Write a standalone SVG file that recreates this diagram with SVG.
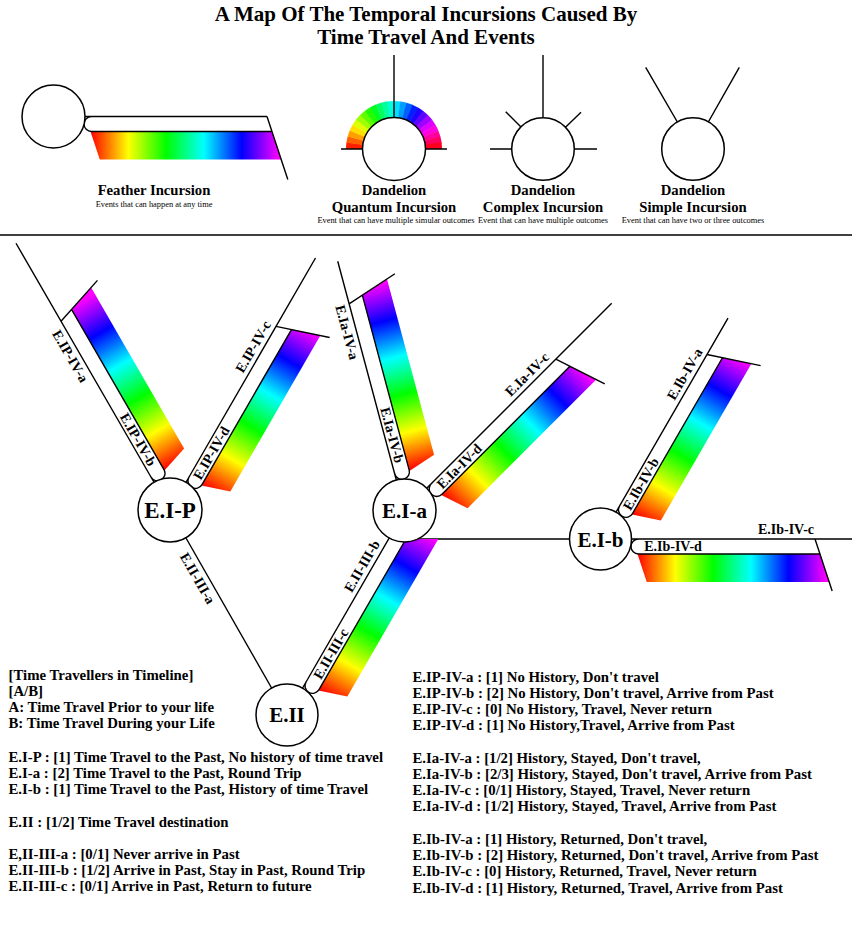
<svg xmlns="http://www.w3.org/2000/svg" width="852" height="938" viewBox="0 0 852 938">
<style>
.ln{fill:none;stroke:#000;stroke-width:1.4}
.rb{fill:url(#rb);stroke:none}
.nd{fill:#fff;stroke:#000;stroke-width:1.5}
text{font-family:"Liberation Serif","Times New Roman",serif;fill:#000}
.t{font-size:21px;font-weight:bold;text-anchor:middle}
.lh{font-size:14.7px;font-weight:bold;text-anchor:middle}
.ls{font-size:8.4px;text-anchor:middle}
.fl{font-size:14px;font-weight:bold;text-anchor:middle}
.nl{font-size:21px;font-weight:bold;text-anchor:middle}
.bt{font-size:14.8px;font-weight:bold}
</style>
<defs>
<linearGradient id="rb" gradientUnits="userSpaceOnUse" x1="37" y1="0" x2="226" y2="0">
<stop offset="0" stop-color="#f00"/>
<stop offset="0.2" stop-color="#ff0"/>
<stop offset="0.4" stop-color="#0f0"/>
<stop offset="0.6" stop-color="#0ff"/>
<stop offset="0.8" stop-color="#00f"/>
<stop offset="1" stop-color="#f0f"/>
</linearGradient>
<path id="wd" d="M31.5 0H48A48 48 0 0 1 47.533 6.680L31.194 4.384A31.5 31.5 0 0 0 31.5 0Z"/>
</defs>
<rect width="852" height="938" fill="#fff"/>

<g id="title">
<text class="t" x="426" y="21">A Map Of The Temporal Incursions Caused By</text>
<text class="t" x="426" y="44">Time Travel And Events</text>
</g>

<g id="legend-feather">
<g transform="translate(53.5,116.5)">
<polygon class="rb" points="37,15 218.45,15 227.69,43 46.24,43"/>
<path class="ln" d="M30 0H213.5M213.5 0L234.3 63M218.45 15H38A7.5 7.5 0 0 1 38 0"/>
</g>
<circle class="nd" cx="53.5" cy="116.5" r="31.5"/>
<text class="lh" x="154" y="195">Feather Incursion</text>
<text class="ls" x="154" y="207">Events that can happen at any time</text>
</g>

<g id="legend-quantum">
<g transform="translate(394,149)">
<use href="#wd" transform="rotate(180)" fill="hsl(7.5,100%,50%)"/>
<use href="#wd" transform="rotate(187.5)" fill="hsl(22.5,100%,50%)"/>
<use href="#wd" transform="rotate(195)" fill="hsl(37.5,100%,50%)"/>
<use href="#wd" transform="rotate(202.5)" fill="hsl(52.5,100%,50%)"/>
<use href="#wd" transform="rotate(210)" fill="hsl(67.5,100%,50%)"/>
<use href="#wd" transform="rotate(217.5)" fill="hsl(82.5,100%,50%)"/>
<use href="#wd" transform="rotate(225)" fill="hsl(97.5,100%,50%)"/>
<use href="#wd" transform="rotate(232.5)" fill="hsl(112.5,100%,50%)"/>
<use href="#wd" transform="rotate(240)" fill="hsl(127.5,100%,50%)"/>
<use href="#wd" transform="rotate(247.5)" fill="hsl(142.5,100%,50%)"/>
<use href="#wd" transform="rotate(255)" fill="hsl(157.5,100%,50%)"/>
<use href="#wd" transform="rotate(262.5)" fill="hsl(172.5,100%,50%)"/>
<use href="#wd" transform="rotate(270)" fill="hsl(187.5,100%,50%)"/>
<use href="#wd" transform="rotate(277.5)" fill="hsl(202.5,100%,50%)"/>
<use href="#wd" transform="rotate(285)" fill="hsl(217.5,100%,50%)"/>
<use href="#wd" transform="rotate(292.5)" fill="hsl(232.5,100%,50%)"/>
<use href="#wd" transform="rotate(300)" fill="hsl(247.5,100%,50%)"/>
<use href="#wd" transform="rotate(307.5)" fill="hsl(262.5,100%,50%)"/>
<use href="#wd" transform="rotate(315)" fill="hsl(277.5,100%,50%)"/>
<use href="#wd" transform="rotate(322.5)" fill="hsl(292.5,100%,50%)"/>
<use href="#wd" transform="rotate(330)" fill="hsl(307.5,100%,50%)"/>
<use href="#wd" transform="rotate(337.5)" fill="hsl(322.5,100%,50%)"/>
<use href="#wd" transform="rotate(345)" fill="hsl(337.5,100%,50%)"/>
<use href="#wd" transform="rotate(352)" fill="hsl(352.5,100%,50%)"/>
</g>
<path class="ln" d="M394 55V149M341 149H447"/>
<circle class="nd" cx="394" cy="149" r="31.5"/>
<text class="lh" x="394" y="195">Dandelion</text>
<text class="lh" x="394" y="211.5">Quantum Incursion</text>
<text class="ls" x="396" y="222.5">Event that can have multiple simular outcomes</text>
</g>

<g id="legend-complex">
<path class="ln" d="M543 55V149M490 149H597M505.7 111.7L543 149M581 112.3L543 149"/>
<circle class="nd" cx="543" cy="149" r="31.3"/>
<text class="lh" x="543" y="195">Dandelion</text>
<text class="lh" x="543" y="211.5">Complex Incursion</text>
<text class="ls" x="543" y="222.5">Event that can have multiple outcomes</text>
</g>

<g id="legend-simple">
<path class="ln" d="M645.7 67.3L693 149M739.3 67.3L693 149"/>
<circle class="nd" cx="693" cy="149" r="31.3"/>
<text class="lh" x="693" y="195">Dandelion</text>
<text class="lh" x="693" y="211.5">Simple Incursion</text>
<text class="ls" x="693" y="222.5">Event that can have two or three outcomes</text>
</g>

<line x1="0" y1="235" x2="852" y2="235" stroke="#000" stroke-width="1.5"/>

<g id="connectors">
<path class="ln" d="M170 510L287 715M405 539H600.5"/>
<g id="f-EIP-ab" transform="translate(170,510) rotate(240)">
<polygon class="rb" points="37,15 222.95,15 232.19,43 46.24,43"/>
<path class="ln" d="M30 0H308M218 0L235.16 52M222.95 15H38A7.5 7.5 0 0 1 38 0"/>
</g>
<g id="f-EIP-cd" transform="translate(170,510) rotate(300)">
<polygon class="rb" points="37,15 216.95,15 226.19,43 46.24,43"/>
<path class="ln" d="M30 0H291M212 0L229.16 52M216.95 15H38A7.5 7.5 0 0 1 38 0"/>
</g>
<g id="f-EIa-ab" transform="translate(404.5,510.5) rotate(255)">
<polygon class="rb" points="37,15 218.95,15 228.19,43 46.24,43"/>
<path class="ln" d="M30 0H258M214 0L231.16 52M218.95 15H38A7.5 7.5 0 0 1 38 0"/>
</g>
<g id="f-EIa-cd" transform="translate(404.5,510.5) rotate(315)">
<polygon class="rb" points="37,15 218.95,15 228.19,43 46.24,43"/>
<path class="ln" d="M30 0H293M214 0L231.16 52M218.95 15H38A7.5 7.5 0 0 1 38 0"/>
</g>
<g id="f-EIb-ab" transform="translate(600.5,539) rotate(300)">
<polygon class="rb" points="37,15 217.95,15 227.19,43 46.24,43"/>
<path class="ln" d="M30 0H255M213 0L230.16 52M217.95 15H38A7.5 7.5 0 0 1 38 0"/>
</g>
<g id="f-EIb-cd" transform="translate(600.5,539)">
<polygon class="rb" points="37,15 219.45,15 228.69,43 46.24,43"/>
<path class="ln" d="M30 0H251.5M214.5 0L231.66 52M219.45 15H38A7.5 7.5 0 0 1 38 0"/>
</g>
<g id="f-EII-bc" transform="translate(287,715) rotate(300)">
<polygon class="rb" points="37,15 211.9,15 228.1,43 46.24,43"/>
<path class="ln" d="M30 0H236M211.9 15H38A7.5 7.5 0 0 1 38 0"/>
</g>
</g>

<g id="node-EIP">
<circle class="nd" cx="170" cy="510" r="32"/>
<text class="nl" x="170" y="518" style="font-size:23px">E.I-P</text>
</g>
<g id="node-EIa">
<circle class="nd" cx="404.5" cy="510.5" r="31.5"/>
<text class="nl" x="404.5" y="518">E.I-a</text>
</g>
<g id="node-EIb">
<circle class="nd" cx="600.5" cy="539" r="31"/>
<text class="nl" x="600.5" y="546.5">E.I-b</text>
</g>
<g id="node-EII">
<circle class="nd" cx="287" cy="715" r="31"/>
<text class="nl" x="287" y="722">E.II</text>
</g>

<g id="connector-labels">
<text class="fl" x="66.29" y="358.57" transform="rotate(60 66.29 358.57)">E.IP-IV-a</text>
<text class="fl" x="134.01" y="441.87" transform="rotate(60 134.01 441.87)">E.IP-IV-b</text>
<text class="fl" x="257.26" y="349.07" transform="rotate(-60 257.26 349.07)">E.IP-IV-c</text>
<text class="fl" x="215.48" y="455.43" transform="rotate(-60 215.48 455.43)">E.IP-IV-d</text>
<text class="fl" x="342.48" y="333.53" transform="rotate(75 342.48 333.53)">E.Ia-IV-a</text>
<text class="fl" x="387.63" y="436.34" transform="rotate(75 387.63 436.34)">E.Ia-IV-b</text>
<text class="fl" x="530.44" y="377.64" transform="rotate(-45 530.44 377.64)">E.Ia-IV-c</text>
<text class="fl" x="462.56" y="469.56" transform="rotate(-45 462.56 469.56)">E.Ia-IV-d</text>
<text class="fl" x="688.76" y="376.34" transform="rotate(-60 688.76 376.34)">E.Ib-IV-a</text>
<text class="fl" x="644.98" y="486.16" transform="rotate(-60 644.98 486.16)">E.Ib-IV-b</text>
<text class="fl" x="786" y="534.1">E.Ib-IV-c</text>
<text class="fl" x="673" y="551.1">E.Ib-IV-d</text>
<text class="fl" x="193.5" y="580.6" transform="rotate(60 193.5 580.6)">E.II-III-a</text>
<text class="fl" x="366" y="568.4" transform="rotate(-60 366 568.4)">E.II-III-b</text>
<text class="fl" x="334.98" y="656.1" transform="rotate(-60 334.98 656.1)">E.II-III-c</text>
</g>

<g id="notes-left">
<text class="bt" x="8.5" y="680">[Time Travellers in Timeline]</text>
<text class="bt" x="8.5" y="696">[A/B]</text>
<text class="bt" x="8.5" y="712">A: Time Travel Prior to your life</text>
<text class="bt" x="8.5" y="728">B: Time Travel During your Life</text>
<text class="bt" x="8.5" y="762">E.I-P : [1] Time Travel to the Past, No history of time travel</text>
<text class="bt" x="8.5" y="778">E.I-a : [2] Time Travel to the Past, Round Trip</text>
<text class="bt" x="8.5" y="794">E.I-b : [1] Time Travel to the Past, History of time Travel</text>
<text class="bt" x="8.5" y="827">E.II : [1/2] Time Travel destination</text>
<text class="bt" x="8.5" y="859">E,II-III-a : [0/1] Never arrive in Past</text>
<text class="bt" x="8.5" y="875">E.II-III-b : [1/2] Arrive in Past, Stay in Past, Round Trip</text>
<text class="bt" x="8.5" y="891">E.II-III-c : [0/1] Arrive in Past, Return to future</text>
</g>

<g id="notes-right">
<text class="bt" x="412.5" y="681.5">E.IP-IV-a : [1] No History, Don't travel</text>
<text class="bt" x="412.5" y="697.5">E.IP-IV-b : [2] No History, Don't travel, Arrive from Past</text>
<text class="bt" x="412.5" y="713.5">E.IP-IV-c : [0] No History, Travel, Never return</text>
<text class="bt" x="412.5" y="729.5">E.IP-IV-d : [1] No History,Travel, Arrive from Past</text>
<text class="bt" x="412.5" y="762.5">E.Ia-IV-a : [1/2] History, Stayed, Don't travel,</text>
<text class="bt" x="412.5" y="778.5">E.Ia-IV-b : [2/3] History, Stayed, Don't travel, Arrive from Past</text>
<text class="bt" x="412.5" y="795">E.Ia-IV-c : [0/1] History, Stayed, Travel, Never return</text>
<text class="bt" x="412.5" y="811">E.Ia-IV-d : [1/2] History, Stayed, Travel, Arrive from Past</text>
<text class="bt" x="412.5" y="844">E.Ib-IV-a : [1] History, Returned, Don't travel,</text>
<text class="bt" x="412.5" y="860">E.Ib-IV-b : [2] History, Returned, Don't travel, Arrive from Past</text>
<text class="bt" x="412.5" y="876">E.Ib-IV-c : [0] History, Returned, Travel, Never return</text>
<text class="bt" x="412.5" y="892.5">E.Ib-IV-d : [1] History, Returned, Travel, Arrive from Past</text>
</g>
</svg>
